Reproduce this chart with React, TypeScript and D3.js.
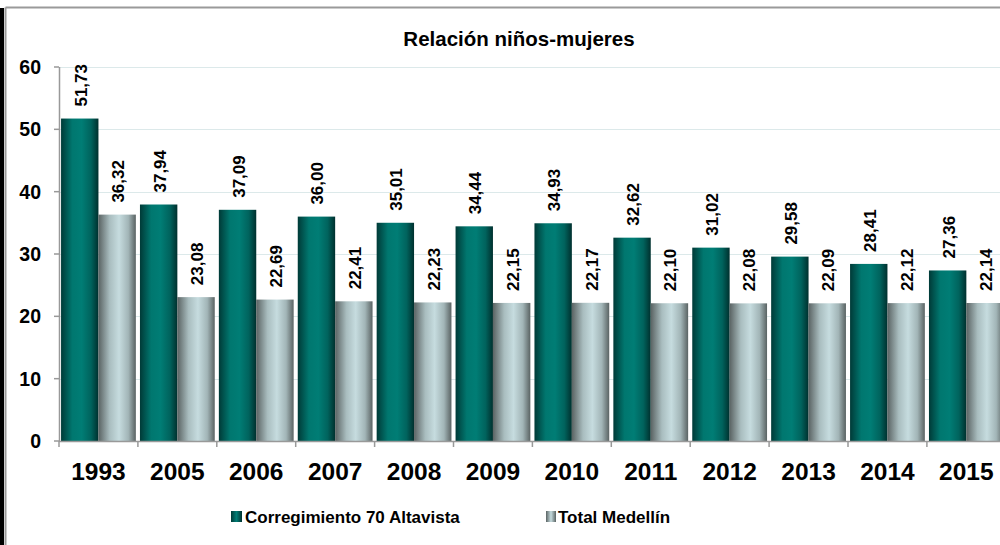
import React from "react";
import * as d3 from "d3";

const years = ["1993","2005","2006","2007","2008","2009","2010","2011","2012","2013","2014","2015"];
const altavista = [51.73,37.94,37.09,36.00,35.01,34.44,34.93,32.62,31.02,29.58,28.41,27.36];
const medellin = [36.32,23.08,22.69,22.41,22.23,22.15,22.17,22.10,22.08,22.09,22.12,22.14];
const yTicks = [0,10,20,30,40,50,60];
const seriesNames = ["Corregimiento 70 Altavista","Total Medellín"];

const fmt = (v: number) => v.toFixed(2).replace(".", ",");

export default function App() {
  const W = 1000, H = 545;
  const x0 = 59, y0 = 441, yTop = 67;
  const band = 78.9;
  const x = d3.scaleBand<string>().domain(years).range([x0, x0 + band * years.length]).paddingInner(0).paddingOuter(0);
  const inner = d3.scaleBand<string>().domain(["a","m"]).range([0, x.bandwidth()]).paddingInner(0).paddingOuter(0.055);
  const y = d3.scaleLinear().domain([0,60]).range([y0, yTop]);
  const font = "'Liberation Sans', Arial, sans-serif";
  const series = [
    { key: "a", vals: altavista, fill: "url(#gTeal)" },
    { key: "m", vals: medellin, fill: "url(#gGray)" },
  ];
  return (
    <svg width={W} height={H} style={{ position: "absolute", left: 0, top: 0, display: "block" }} fontFamily={font}>
      <defs>
        <linearGradient id="gTeal" x1="0" x2="1" y1="0" y2="0">
          <stop offset="0" stopColor="#003a37" />
          <stop offset="0.3" stopColor="#00776f" />
          <stop offset="0.55" stopColor="#007d75" />
          <stop offset="0.8" stopColor="#00635d" />
          <stop offset="1" stopColor="#00302e" />
        </linearGradient>
        <linearGradient id="gGray" x1="0" x2="1" y1="0" y2="0">
          <stop offset="0" stopColor="#5a6363" />
          <stop offset="0.3" stopColor="#a9bdbf" />
          <stop offset="0.55" stopColor="#c6dcdf" />
          <stop offset="0.8" stopColor="#a2b5b7" />
          <stop offset="1" stopColor="#5a6363" />
        </linearGradient>
        <linearGradient id="lTeal" x1="0" x2="1">
          <stop offset="0" stopColor="#003a37" />
          <stop offset="0.5" stopColor="#007d75" />
          <stop offset="1" stopColor="#00302e" />
        </linearGradient>
        <linearGradient id="lGray" x1="0" x2="1">
          <stop offset="0" stopColor="#5a6363" />
          <stop offset="0.5" stopColor="#c6dcdf" />
          <stop offset="1" stopColor="#5a6363" />
        </linearGradient>
      </defs>
      <rect x={0} y={0} width={W} height={H} fill="#ffffff" />
      <rect x={0} y={8} width={4} height={H - 8} fill="#000" />
      <line x1={5.5} x2={W} y1={7.5} y2={7.5} stroke="#9a9a9a" strokeWidth={2} />
      <line x1={5.5} x2={5.5} y1={7.5} y2={H} stroke="#9a9a9a" strokeWidth={2} />
      <text x={519} y={46} textAnchor="middle" fontSize={20.5} fontWeight="bold" fill="#000">Relación niños-mujeres</text>
      {yTicks.filter(t => t > 0).map(t => (
        <line key={"g" + t} x1={x0} x2={W} y1={Math.round(y(t)) + 0.5} y2={Math.round(y(t)) + 0.5} stroke="#dce9ea" strokeWidth={1} />
      ))}
      {series.map(s => years.map((yr, i) => {
        const bx = (x(yr) as number) + (inner(s.key) as number);
        const bw = inner.bandwidth();
        const top = y(s.vals[i]);
        return (
          <g key={s.key + yr}>
            <rect x={bx} y={top} width={bw} height={y0 - top} fill={s.fill} />
            <text transform={`translate(${bx + bw / 2 + 7},${top - 12}) rotate(-90)`} fontSize={17} fontWeight="bold" fill="#000">{fmt(s.vals[i])}</text>
          </g>
        );
      }))}
      <line x1={x0 + 0.5} x2={x0 + 0.5} y1={yTop} y2={y0} stroke="#999" strokeWidth={1.5} />
      {yTicks.map(t => (
        <g key={"t" + t}>
          <line x1={x0 - 5} x2={x0} y1={y(t)} y2={y(t)} stroke="#999" strokeWidth={1.5} />
          <text x={41} y={y(t) + 7} textAnchor="end" fontSize={19.5} fontWeight="bold" fill="#000">{t}</text>
        </g>
      ))}
      <line x1={x0} x2={W} y1={y0 + 0.5} y2={y0 + 0.5} stroke="#999" strokeWidth={1.5} />
      {years.map((yr, i) => (
        <g key={"x" + yr}>
          <line x1={(x(yr) as number)} x2={(x(yr) as number)} y1={y0} y2={y0 + 6} stroke="#999" strokeWidth={1.5} />
          <text x={(x(yr) as number) + x.bandwidth() / 2} y={480} textAnchor="middle" fontSize={24.5} fontWeight="bold" fill="#000">{yr}</text>
        </g>
      ))}
      <rect x={231} y={511} width={11} height={11} fill="url(#lTeal)" />
      <text x={245} y={523} fontSize={17} fontWeight="bold" fill="#000">{seriesNames[0]}</text>
      <rect x={546} y={511} width={10} height={11} fill="url(#lGray)" />
      <text x={558} y={523} fontSize={17} fontWeight="bold" fill="#000">{seriesNames[1]}</text>
    </svg>
  );
}
